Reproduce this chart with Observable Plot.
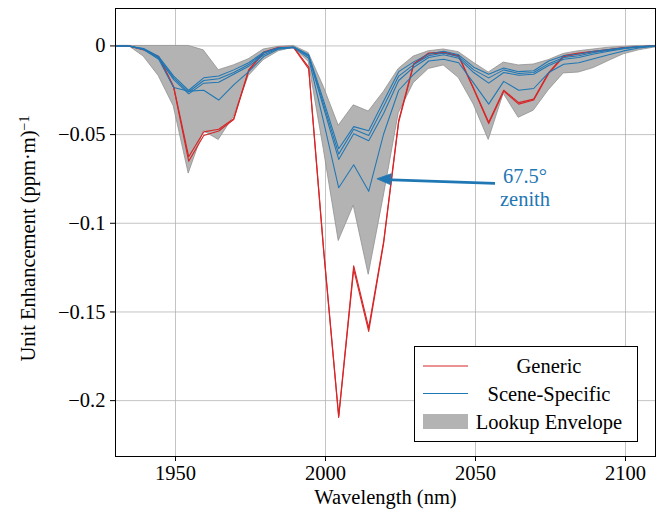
<!DOCTYPE html>
<html><head><meta charset="utf-8">
<script src="https://cdn.jsdelivr.net/npm/d3@7"></script>
<script src="https://cdn.jsdelivr.net/npm/@observablehq/plot@0.6"></script>
<style>body{margin:0;background:#fff;} svg text{font-family:"Liberation Serif","Times New Roman",serif !important;}</style>
</head><body><div id="chart"></div>
<script>
const wavelengths = [1929.4,1934.4,1939.4,1944.4,1949.4,1954.4,1959.4,1964.4,1969.4,1974.4,1979.4,1984.4,1989.4,1994.4,1999.4,2004.4,2009.4,2014.4,2019.4,2024.4,2029.4,2034.4,2039.4,2044.4,2049.4,2054.4,2059.4,2064.4,2069.4,2074.4,2079.4,2084.4,2089.4,2094.4,2099.4,2104.4,2109.4,2114.4];

const generic1 = [0,0,-0.002,-0.006,-0.023,-0.0625,-0.0485,-0.047,-0.041,-0.0135,-0.0035,-0.0008,-0.0008,-0.012,-0.115,-0.2085,-0.124,-0.159,-0.110,-0.042,-0.010,-0.004,-0.0035,-0.0055,-0.024,-0.043,-0.025,-0.032,-0.030,-0.015,-0.0055,-0.004,-0.003,-0.002,-0.001,-0.0005,0,0];
const generic2 = [0,0,-0.0022,-0.0065,-0.0235,-0.065,-0.0505,-0.048,-0.0415,-0.014,-0.0038,-0.001,-0.001,-0.013,-0.116,-0.2095,-0.126,-0.161,-0.111,-0.043,-0.0105,-0.0045,-0.004,-0.006,-0.0245,-0.0438,-0.0255,-0.0328,-0.0305,-0.0155,-0.006,-0.0045,-0.0033,-0.0022,-0.0012,-0.0006,0,0];

const sceneA = [0,0,-0.0015,-0.006,-0.017,-0.025,-0.018,-0.017,-0.0135,-0.0095,-0.0035,-0.001,-0.0006,-0.005,-0.031,-0.058,-0.0455,-0.0478,-0.031,-0.0145,-0.009,-0.0045,-0.003,-0.005,-0.012,-0.016,-0.0125,-0.0145,-0.014,-0.0085,-0.0055,-0.0045,-0.003,-0.002,-0.001,-0.0004,0,0];
const sceneB = [0,0,-0.0018,-0.0065,-0.018,-0.026,-0.0195,-0.0185,-0.015,-0.0105,-0.004,-0.0012,-0.0007,-0.0055,-0.033,-0.061,-0.047,-0.0505,-0.034,-0.017,-0.0105,-0.0055,-0.004,-0.006,-0.0135,-0.018,-0.0135,-0.0155,-0.015,-0.010,-0.0065,-0.0055,-0.0037,-0.0025,-0.0013,-0.0005,0,0];
const sceneC = [0,0,-0.002,-0.007,-0.019,-0.027,-0.021,-0.0205,-0.016,-0.0115,-0.005,-0.0015,-0.0008,-0.006,-0.035,-0.064,-0.0495,-0.0535,-0.038,-0.0195,-0.012,-0.0065,-0.005,-0.007,-0.015,-0.021,-0.015,-0.0165,-0.016,-0.011,-0.0075,-0.0065,-0.0045,-0.003,-0.0016,-0.0006,0,0];
const scene675 = [0,0,-0.002,-0.0075,-0.0235,-0.0255,-0.025,-0.0305,-0.022,-0.0145,-0.006,-0.0018,-0.001,-0.007,-0.043,-0.080,-0.067,-0.082,-0.0495,-0.025,-0.016,-0.0085,-0.0075,-0.0095,-0.021,-0.0328,-0.020,-0.025,-0.024,-0.015,-0.0103,-0.0095,-0.0072,-0.005,-0.0028,-0.0012,-0.0003,0];

const envTop = [0,0,0,0,0,0,-0.0025,-0.0137,-0.011,-0.0075,-0.002,-0.0005,0,-0.004,-0.023,-0.045,-0.0335,-0.037,-0.026,-0.013,-0.006,-0.003,-0.002,-0.0035,-0.0095,-0.015,-0.0094,-0.011,-0.0105,-0.008,-0.0045,-0.003,-0.002,-0.001,-0.0005,0,0,0];
const envBottom = [0,0,-0.006,-0.017,-0.034,-0.072,-0.048,-0.053,-0.040,-0.017,-0.008,-0.003,-0.001,-0.009,-0.058,-0.110,-0.090,-0.129,-0.085,-0.038,-0.021,-0.013,-0.011,-0.018,-0.033,-0.053,-0.027,-0.0405,-0.0365,-0.025,-0.0155,-0.015,-0.0125,-0.0085,-0.0047,-0.0025,-0.001,0];

const xTicks = [1950, 2000, 2050, 2100];
const yTicks = [0, -0.05, -0.1, -0.15, -0.2];
const yTickLabels = ["0", "\u22120.05", "\u22120.1", "\u22120.15", "\u22120.2"];

const legendLabels = ["Generic", "Scene-Specific", "Lookup Envelope"];
const annotLines = ["67.5°", "zenith"];
const annotTip = [2017.3, -0.0752];
const annotTail = [2056.5, -0.0775];
const annotText = [2066.5, -0.0735, -0.0865];

const red = "#d62728", blue = "#1f77b4";
const envRows = wavelengths.map((w, i) => ({w, lo: envBottom[i], hi: envTop[i]}));
const genericRows = [];
[["g1", generic1], ["g2", generic2]].forEach(([s, arr]) => arr.forEach((v, i) => genericRows.push({s, w: wavelengths[i], v})));
const sceneRows = [];
[["a", sceneA], ["b", sceneB], ["c", sceneC], ["d", scene675]].forEach(([s, arr]) => arr.forEach((v, i) => sceneRows.push({s, w: wavelengths[i], v})));

const ff = "Liberation Serif, Times New Roman, serif";
const FS = 20.5;

const chart = Plot.plot({
  width: 662, height: 517,
  marginLeft: 115, marginRight: 7, marginTop: 8, marginBottom: 61,
  style: {fontFamily: ff, fontSize: FS + "px", background: "white", color: "black"},
  x: {domain: [1930, 2110]},
  y: {domain: [-0.2315, 0.0211]},
  marks: [
    Plot.gridX({ticks: xTicks, stroke: "#b0b0b0", strokeOpacity: 0.75, strokeWidth: 1}),
    Plot.gridY({ticks: yTicks, stroke: "#b0b0b0", strokeOpacity: 0.75, strokeWidth: 1}),
    Plot.areaY(envRows, {x: "w", y1: "lo", y2: "hi", fill: "#b3b3b3", stroke: "#909090", strokeWidth: 0.8, clip: true}),
    Plot.line(genericRows, {x: "w", y: "v", z: "s", stroke: red, strokeWidth: 1.15, clip: true}),
    Plot.line(sceneRows, {x: "w", y: "v", z: "s", stroke: blue, strokeWidth: 1.05, clip: true}),
    Plot.link([0], {x1: annotTail[0], y1: annotTail[1], x2: annotTip[0] + 2.5, y2: annotTip[1] - 0.0002, stroke: blue, strokeWidth: 2.6}),
    Plot.text(annotLines, {x: annotText[0], y: (d, i) => annotText[1 + i], text: d => d, fill: blue, fontSize: FS}),
    Plot.axisX({ticks: xTicks, tickFormat: d => String(d), tickSize: 5, tickPadding: 4, label: null, fontSize: FS}),
    Plot.axisY({ticks: yTicks, tickFormat: d => yTickLabels[yTicks.indexOf(d)], tickSize: 5, tickPadding: 5, label: null, fontSize: FS}),
    Plot.frame({stroke: "black", strokeWidth: 1}),
    Plot.text(["Wavelength (nm)"], {frameAnchor: "bottom", dy: 41, text: d => d, fontSize: FS, lineAnchor: "middle", textAnchor: "middle"}),
    Plot.text(["Unit Enhancement (ppm·m)"], {frameAnchor: "left", rotate: -90, dx: -87, dy: 6, text: d => d, fontSize: FS, lineAnchor: "middle", textAnchor: "middle"})
  ]
});
document.getElementById("chart").appendChild(chart);

const svg = d3.select(chart);
// superscript on y label
svg.selectAll("text").filter(function() { return this.textContent === "Unit Enhancement (ppm·m)"; })
  .append("tspan").attr("dy", "-0.45em").attr("font-size", "14px").text("\u22121");

// arrow head using the plot's scales
const sx = chart.scale("x"), sy = chart.scale("y");
const tx = sx.apply(annotTip[0]), ty = sy.apply(annotTip[1]);
const bx = sx.apply(annotTail[0]), by = sy.apply(annotTail[1]);
const ang = Math.atan2(by - ty, bx - tx);
const L = 14, W = 5.5;
const cx = tx + L * Math.cos(ang), cy = ty + L * Math.sin(ang);
const px = -Math.sin(ang) * W, py = Math.cos(ang) * W;
svg.append("path")
  .attr("d", `M${tx},${ty}L${cx + px},${cy + py}L${cx - px},${cy - py}Z`)
  .attr("fill", blue).attr("stroke", blue).attr("stroke-width", 0.8);

// legend
const lg = svg.append("g").attr("font-size", FS + "px");
lg.append("rect").attr("x", 414.5).attr("y", 346.5).attr("width", 223).attr("height", 95)
  .attr("fill", "white").attr("stroke", "black").attr("stroke-width", 1);
const rowsY = [366, 393.5, 421.5];
lg.append("line").attr("x1", 423).attr("x2", 468).attr("y1", rowsY[0]).attr("y2", rowsY[0]).attr("stroke", red).attr("stroke-width", 1.1);
lg.append("line").attr("x1", 423).attr("x2", 468).attr("y1", rowsY[1]).attr("y2", rowsY[1]).attr("stroke", blue).attr("stroke-width", 1.1);
lg.append("rect").attr("x", 423).attr("y", rowsY[2] - 7.5).attr("width", 45).attr("height", 15).attr("fill", "#b3b3b3");
legendLabels.forEach((t, i) => {
  lg.append("text").attr("x", 549).attr("y", rowsY[i]).attr("text-anchor", "middle")
    .attr("dominant-baseline", "central").attr("fill", "black").text(t);
});
</script>
</body></html>
